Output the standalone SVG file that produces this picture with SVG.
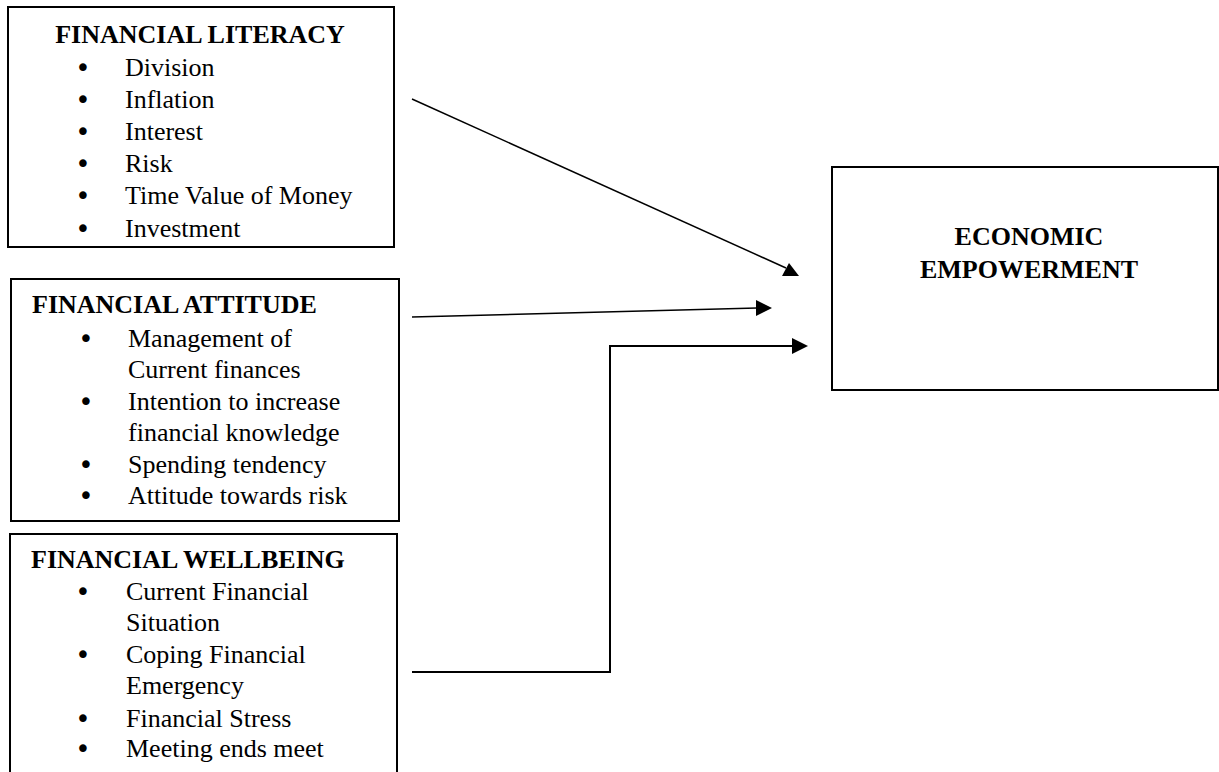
<svg xmlns="http://www.w3.org/2000/svg" width="1219" height="772" viewBox="0 0 1219 772">
<style>
.box{fill:#fff;stroke:#000;stroke-width:2}
.t{font-family:"Liberation Serif","Times New Roman",serif;font-size:26px;fill:#000}
.h{font-family:"Liberation Serif","Times New Roman",serif;font-size:26px;font-weight:bold;fill:#000}
.b{font-family:"DejaVu Sans",sans-serif;font-size:26px;fill:#000;text-anchor:middle}
.ln{fill:none;stroke:#000;stroke-width:1.5}
.el{fill:none;stroke:#000;stroke-width:2}
.ah{fill:#000}
</style>
<rect width="1219" height="772" fill="#fff"/>
<g id="literacy">
<rect class="box" x="8" y="7" width="386" height="240"/>
<text class="h" x="200" y="43" text-anchor="middle">FINANCIAL LITERACY</text>
<text class="b" x="83" y="77">•</text><text class="t" x="125" y="76">Division</text>
<text class="b" x="83" y="109">•</text><text class="t" x="125" y="108">Inflation</text>
<text class="b" x="83" y="141">•</text><text class="t" x="125" y="140">Interest</text>
<text class="b" x="83" y="173">•</text><text class="t" x="125" y="172">Risk</text>
<text class="b" x="83" y="205">•</text><text class="t" x="125" y="204">Time Value of Money</text>
<text class="b" x="83" y="238">•</text><text class="t" x="125" y="237">Investment</text>
</g>
<g id="attitude">
<rect class="box" x="11" y="279" width="388" height="242"/>
<text class="h" x="32" y="313">FINANCIAL ATTITUDE</text>
<text class="b" x="86" y="348">•</text><text class="t" x="128" y="347">Management of</text>
<text class="t" x="128" y="378">Current finances</text>
<text class="b" x="86" y="411">•</text><text class="t" x="128" y="410">Intention to increase</text>
<text class="t" x="128" y="441">financial knowledge</text>
<text class="b" x="86" y="474">•</text><text class="t" x="128" y="473">Spending tendency</text>
<text class="b" x="86" y="505">•</text><text class="t" x="128" y="504">Attitude towards risk</text>
</g>
<g id="wellbeing">
<rect class="box" x="10" y="534" width="387" height="260"/>
<text class="h" x="31" y="568">FINANCIAL WELLBEING</text>
<text class="b" x="83" y="601">•</text><text class="t" x="126" y="600">Current Financial</text>
<text class="t" x="126" y="631">Situation</text>
<text class="b" x="83" y="664">•</text><text class="t" x="126" y="663">Coping Financial</text>
<text class="t" x="126" y="694">Emergency</text>
<text class="b" x="83" y="728">•</text><text class="t" x="126" y="727">Financial Stress</text>
<text class="b" x="83" y="758">•</text><text class="t" x="126" y="757">Meeting ends meet</text>
</g>
<g id="empowerment">
<rect class="box" x="832" y="167" width="386" height="223"/>
<text class="h" x="1029" y="245" text-anchor="middle">ECONOMIC</text>
<text class="h" x="1029" y="278" text-anchor="middle">EMPOWERMENT</text>
</g>
<g id="connectors">
<line class="ln" x1="412" y1="99" x2="786" y2="268"/>
<polygon class="ah" points="782,276 799,276 789,263"/>
<line class="ln" x1="412" y1="317" x2="757" y2="308"/>
<polygon class="ah" points="756,300 756,316 772,308"/>
<polyline class="el" points="412,672 610,672 610,346 793,346"/>
<polygon class="ah" points="792,338 792,354 808,346"/>
</g>
</svg>
